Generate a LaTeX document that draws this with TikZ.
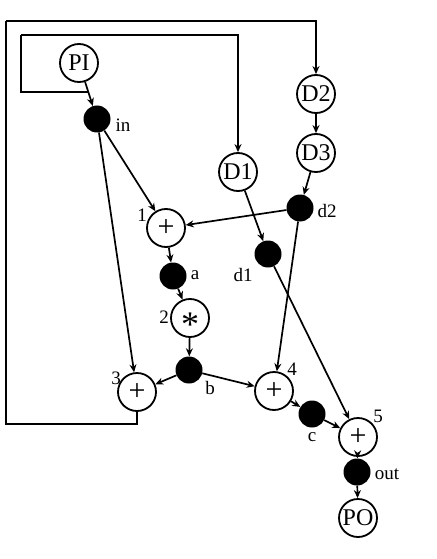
\documentclass[tikz,border=0pt]{standalone}
\usepackage{fontspec}
\setmainfont{Liberation Serif}
\usetikzlibrary{arrows.meta,calc}
\begin{document}
\begin{tikzpicture}[x=1pt,y=-1pt,
  op/.style={circle,draw,line width=1.8pt,minimum size=38pt,inner sep=0pt,fill=white,font=\fontsize{24}{24}\selectfont},
  opsym/.style={op,font=\fontsize{30}{30}\selectfont},
  dot/.style={circle,fill=black,minimum size=27pt,inner sep=0pt},
  lbl/.style={font=\fontsize{19}{19}\selectfont,inner sep=0pt},
  arr/.style={-{Stealth[length=8pt,width=7pt]},line width=1.7pt},
  ln/.style={line width=1.7pt}]
\useasboundingbox (0,0) rectangle (436,559);
% labels first (node 3 hides part of its label)
\node[lbl] (lin) at (123,125) {in};
\node[lbl] (ld2) at (327,211) {d2};
\node[lbl] (l1) at (142,215) {1};
\node[lbl] (la) at (195,275) {a};
\node[lbl] (ld1) at (243,275) {d1};
\node[lbl] (l2) at (164,317) {2};
\node[lbl] (lb) at (210,388) {b};
\node[lbl] (l3) at (116,378) {3};
\node[lbl] (l4) at (292,369) {4};
\node[lbl] (lc) at (312,437) {c};
\node[lbl] (l5) at (378,416) {5};
\node[lbl] (lout) at (387,474) {out};
% nodes
\node[op] (PI) at (79,63) {PI};
\node[dot] (in) at (97,119) {};
\node[op] (D1) at (238,172) {D1};
\node[op] (D2) at (316,94) {D2};
\node[op] (D3) at (316,153) {D3};
\node[dot] (d2) at (300,208) {};
\node[opsym] (n1) at (166,228) {+};
\node[dot] (d1) at (268,254) {};
\node[dot] (a) at (173,276) {};
\node[op,font=\fontsize{36}{36}\selectfont] (n2) at (190,318) {\raisebox{-0.5em}[0pt][0pt]{*}};
\node[dot] (b) at (189,370) {};
\node[opsym] (n3) at (137,392) {+};
\node[opsym] (n4) at (274,391) {+};
\node[dot] (c) at (312,414) {};
\node[opsym] (n5) at (358,437) {+};
\node[dot] (out) at (357,472) {};
\node[op] (PO) at (358,518) {PO};
% coordinates for loops
\coordinate (j) at ($(PI)!0.52!(in)$);
\coordinate (i1) at (21,35);
\coordinate (o1) at (6,424);
\coordinate (o2) at (6,21);
% edges
\draw[arr] (PI) -- (in);
\draw[arr] (in) -- (n1);
\draw[arr] (in) -- (n3);
\draw[arr] (D1) -- (d1);
\draw[arr] (D2) -- (D3);
\draw[arr] (D3) -- (d2);
\draw[arr] (d2) -- (n1);
\draw[arr] (d2) -- (n4);
\draw[arr] (d1) -- (n5);
\draw[arr] (n1) -- (a);
\draw[arr] (a) -- (n2);
\draw[arr] (n2) -- (b);
\draw[arr] (b) -- (n3);
\draw[arr] (b) -- (n4);
\draw[arr] (n4) -- (c);
\draw[arr] (c) -- (n5);
\draw[arr] (n5) -- (out);
\draw[arr] (out) -- (PO);
\draw[ln,line join=miter] (j) -| (i1);
\draw[arr] (i1) -| (D1.north);
\draw[ln] (n3.south) |- (o1) -- (o2);
\draw[arr] (o2) -| (D2.north);
\end{tikzpicture}
\end{document}
